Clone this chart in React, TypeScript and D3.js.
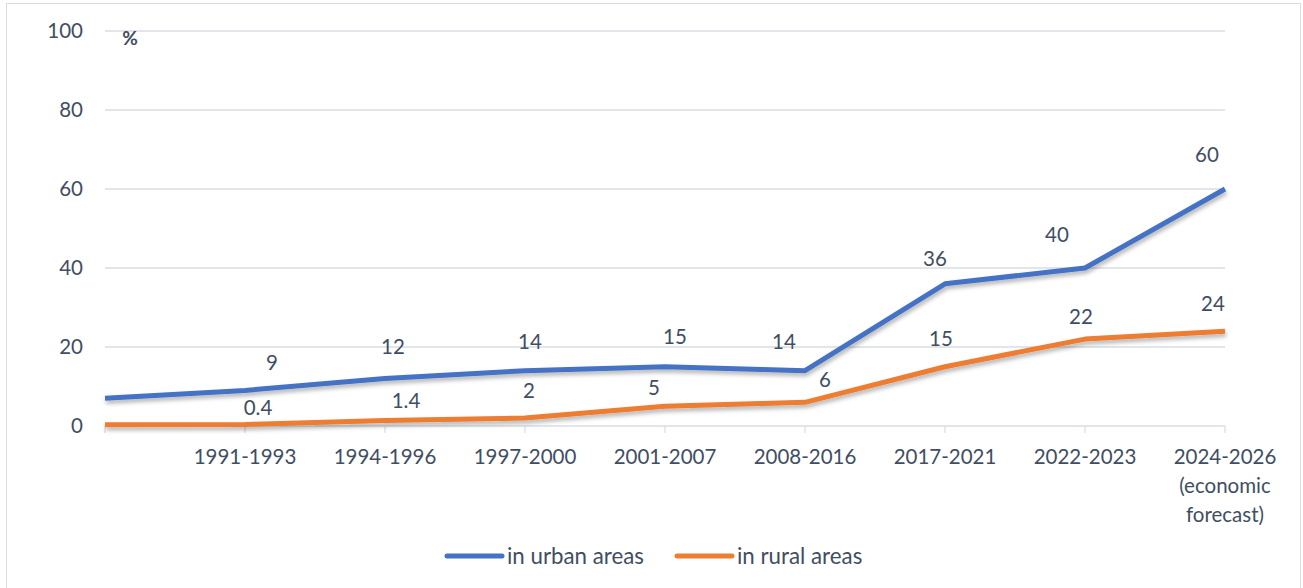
import React from "react";
import * as d3 from "d3";

// categories (first slot is the unlabeled start point)
const periods = [
  "",
  "1991-1993",
  "1994-1996",
  "1997-2000",
  "2001-2007",
  "2008-2016",
  "2017-2021",
  "2022-2023",
  "2024-2026\n(economic\nforecast)",
];

const urban = [7, 9, 12, 14, 15, 14, 36, 40, 60];
const rural = [0.3, 0.4, 1.4, 2, 5, 6, 15, 22, 24];

// data labels as printed (first point has none)
const urbanLabels = ["", "9", "12", "14", "15", "14", "36", "40", "60"];
const ruralLabels = ["", "0.4", "1.4", "2", "5", "6", "15", "22", "24"];

const yTicks = [0, 20, 40, 60, 80, 100];

// manual label nudges [dx, dy] like the hand-placed labels in the original
const urbanNudge = [
  [0, 0], [27, -28], [8, -32], [5, -29], [10, -30], [-21, -29], [-10, -25], [-28, -33], [-18, -34],
];
const ruralNudge = [
  [0, 0], [13, -17], [21, -20], [4, -27], [-11, -19], [20, -23], [-4, -28], [-4, -22], [-12, -28],
];

const W = 1303;
const H = 588;
const FONT = "Lato, 'Open Sans', sans-serif";
const TXT = "#3F4E63";
const GRID = "#D9DDE3";
const BLUE = "#4472C4";
const ORANGE = "#ED7D31";

const App: React.FC = () => {
  const x = d3.scalePoint<string>().domain(periods).range([105, 1225]);
  const y = d3.scaleLinear().domain([0, 100]).range([426, 31]);

  const line = d3
    .line<number>()
    .x((_, i) => x(periods[i]) ?? 0)
    .y((d) => y(d));

  const series = [
    { name: "in urban areas", values: urban, labels: urbanLabels, nudge: urbanNudge, color: BLUE },
    { name: "in rural areas", values: rural, labels: ruralLabels, nudge: ruralNudge, color: ORANGE },
  ];

  return (
    <svg
      width={W}
      height={H}
      style={{ position: "absolute", left: 0, top: 0, fontFamily: FONT }}
    >
      <defs>
        <filter id="shadow" x="-5%" y="-20%" width="110%" height="150%">
          <feDropShadow dx="1" dy="3" stdDeviation="2" floodColor="#000" floodOpacity="0.3" />
        </filter>
      </defs>
      <rect x={0} y={0} width={W} height={H} fill="#fff" />
      <rect x={6.5} y={3.5} width={1294} height={600} fill="none" stroke={GRID} />

      {/* gridlines + y labels */}
      {yTicks.map((t) => (
        <g key={t}>
          {t > 0 && (
            <line x1={105} x2={1225} y1={y(t)} y2={y(t)} stroke={GRID} strokeWidth={1.3} />
          )}
          <text x={83} y={y(t)} dy="0.36em" textAnchor="end" fontSize={20.5} fill={TXT}>
            {t}
          </text>
        </g>
      ))}
      <text x={130} y={38} dy="0.36em" textAnchor="middle" fontSize={19} fontWeight={700} fill={TXT}>
        %
      </text>

      {/* x axis */}
      <line x1={105} x2={1225} y1={y(0)} y2={y(0)} stroke={GRID} strokeWidth={1.3} />
      {periods.map((p) => (
        <g key={p || "start"}>
          <line
            x1={x(p)}
            x2={x(p)}
            y1={y(0)}
            y2={y(0) + 7}
            stroke={GRID}
            strokeWidth={1.3}
          />
          <text textAnchor="middle" fontSize={20.5} fill={TXT}>
            {p.split("\n").map((s, j) => (
              <tspan key={j} x={x(p)} y={457 + j * 29} dy="0.36em">
                {s}
              </tspan>
            ))}
          </text>
        </g>
      ))}

      {/* lines */}
      {series.map((s) => (
        <path
          key={s.name}
          d={line(s.values) ?? ""}
          fill="none"
          stroke={s.color}
          strokeWidth={5}
          strokeLinejoin="round"
          filter="url(#shadow)"
        />
      ))}

      {/* data labels */}
      {series.map((s) =>
        s.values.map((v, i) =>
          s.labels[i] ? (
            <text
              key={s.name + i}
              x={(x(periods[i]) ?? 0) + s.nudge[i][0]}
              y={y(v) + s.nudge[i][1]}
              dy="0.36em"
              textAnchor="middle"
              fontSize={20.5}
              fill={TXT}
            >
              {s.labels[i]}
            </text>
          ) : null
        )
      )}

      {/* legend */}
      {series.map((s, i) => {
        const lx = i === 0 ? 447 : 677;
        return (
          <g key={s.name}>
            <line
              x1={lx}
              x2={lx + 55}
              y1={556}
              y2={556}
              stroke={s.color}
              strokeWidth={5}
              strokeLinecap="round"
            />
            <text x={lx + 60} y={556} dy="0.36em" fontSize={22.3} fill={TXT}>
              {s.name}
            </text>
          </g>
        );
      })}
    </svg>
  );
};

export default App;
